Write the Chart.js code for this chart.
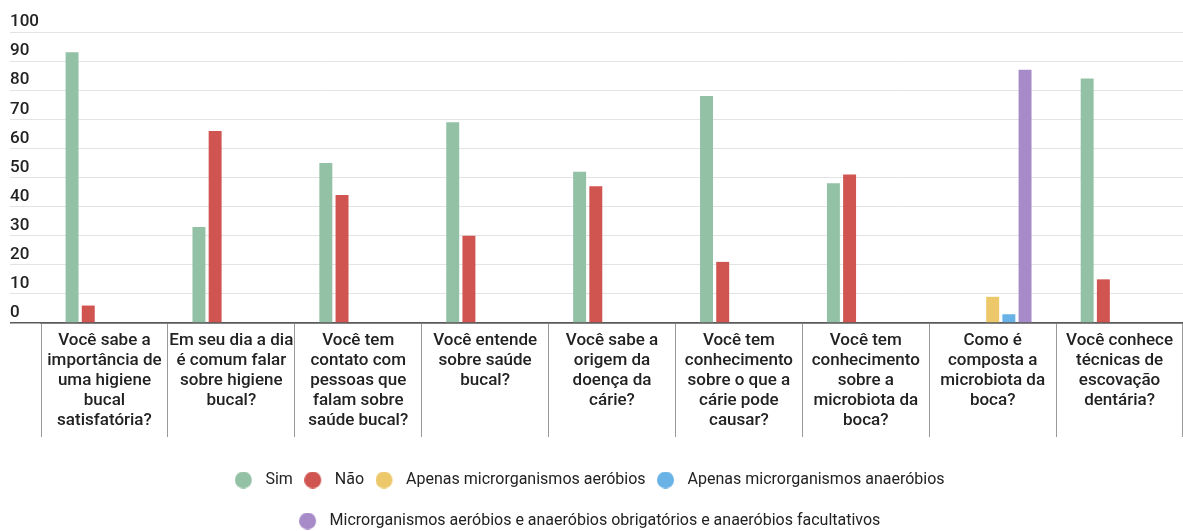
<!DOCTYPE html>
<html>
<head>
<meta charset="utf-8">
<script src="https://cdn.jsdelivr.net/npm/chart.js@4.4.1/dist/chart.umd.min.js"></script>
<style>
  html, body { margin: 0; padding: 0; background: #fff; }
  #wrap { width: 1183px; height: 531px; }
</style>
</head>
<body>
<div id="wrap"><canvas id="myChart"></canvas></div>
<script>
const perguntas = [
  ['Você sabe a', 'importância de', 'uma higiene', 'bucal', 'satisfatória?'],
  ['Em seu dia a dia', 'é comum falar', 'sobre higiene', 'bucal?'],
  ['Você tem', 'contato com', 'pessoas que', 'falam sobre', 'saúde bucal?'],
  ['Você entende', 'sobre saúde', 'bucal?'],
  ['Você sabe a', 'origem da', 'doença da', 'cárie?'],
  ['Você tem', 'conhecimento', 'sobre o que a', 'cárie pode', 'causar?'],
  ['Você tem', 'conhecimento', 'sobre a', 'microbiota da', 'boca?'],
  ['Como é', 'composta a', 'microbiota da', 'boca?'],
  ['Você conhece', 'técnicas de', 'escovação', 'dentária?']
];

const sim        = [93, 33, 55, 69, 52, 78, 48, null, 84];
const nao        = [6, 66, 44, 30, 47, 21, 51, null, 15];
const aerobios   = [null, null, null, null, null, null, null, 9, null];
const anaerobios = [null, null, null, null, null, null, null, 3, null];
const ambos      = [null, null, null, null, null, null, null, 87, null];

const yMax = 100;
const yStep = 10;

const cores = ['#93c1a6', '#d0544f', '#ecc86a', '#68b2e6', '#a78bc8'];

// little round markers for the legend, with the circle pushed to the left
function bolinha(cor) {
  const c = document.createElement('canvas');
  c.width = 36;
  c.height = 17;
  const g = c.getContext('2d');
  g.fillStyle = cor;
  g.beginPath();
  g.arc(8.5, 8.5, 8.5, 0, Math.PI * 2);
  g.fill();
  return c;
}
const bolinhas = cores.map(bolinha);

const ctx = document.getElementById('myChart');

var myChart = new Chart(ctx, {
  type: 'bar',
  data: {
    labels: perguntas,
    datasets: [
      { label: 'Sim', data: sim, backgroundColor: cores[0] },
      { label: 'Não', data: nao, backgroundColor: cores[1] },
      { label: 'Apenas microrganismos aeróbios', data: aerobios, backgroundColor: cores[2] },
      { label: 'Apenas microrganismos anaeróbios', data: anaerobios, backgroundColor: cores[3] },
      { label: 'Microrganismos aeróbios e anaeróbios obrigatórios e anaeróbios facultativos', data: ambos, backgroundColor: cores[4] }
    ]
  },
  options: {
    responsive: true,
    maintainAspectRatio: false,
    animation: false,
    datasets: {
      bar: { categoryPercentage: 0.638, barPercentage: 0.8 }
    },
    layout: {
      padding: { top: 32, left: 10, right: 0, bottom: 0 }
    },
    scales: {
      x: {
        offset: true,
        grid: {
          offset: true,
          drawOnChartArea: false,
          drawTicks: true,
          tickLength: 114,
          tickColor: '#999',
          tickWidth: 1
        },
        border: { display: true, color: '#5a5a5a', width: 1.5 },
        ticks: {
          padding: -106,
          color: '#222',
          maxRotation: 0,
          autoSkip: false,
          font: { family: 'Roboto', size: 17, weight: '500', lineHeight: '20px' }
        },
        afterFit: s => { s.height = 124; }
      },
      y: {
        min: 0,
        max: yMax,
        border: { display: false },
        grid: {
          color: c => c.tick && c.tick.value === 0 ? '#5a5a5a' : '#e3e3e3',
          lineWidth: c => c.tick && c.tick.value === 0 ? 1.5 : 1,
          drawTicks: true,
          tickLength: 31
        },
        ticks: {
          stepSize: yStep,
          crossAlign: 'far',
          labelOffset: -10,
          color: '#222',
          font: { family: 'Roboto', size: 17, weight: '500' }
        },
        afterFit: s => { s.width = 31; }
      }
    },
    plugins: {
      tooltip: { enabled: false },
      legend: {
        position: 'bottom',
        maxHeight: 84,
        labels: {
          usePointStyle: true,
          boxWidth: 9,
          padding: 25,
          color: '#222',
          font: { family: 'Roboto', size: 16 },
          generateLabels: chart => {
            const items = Chart.defaults.plugins.legend.labels.generateLabels(chart);
            items.forEach(it => { it.pointStyle = bolinhas[it.datasetIndex]; });
            return items;
          }
        }
      }
    }
  }
});
</script>
</body>
</html>
